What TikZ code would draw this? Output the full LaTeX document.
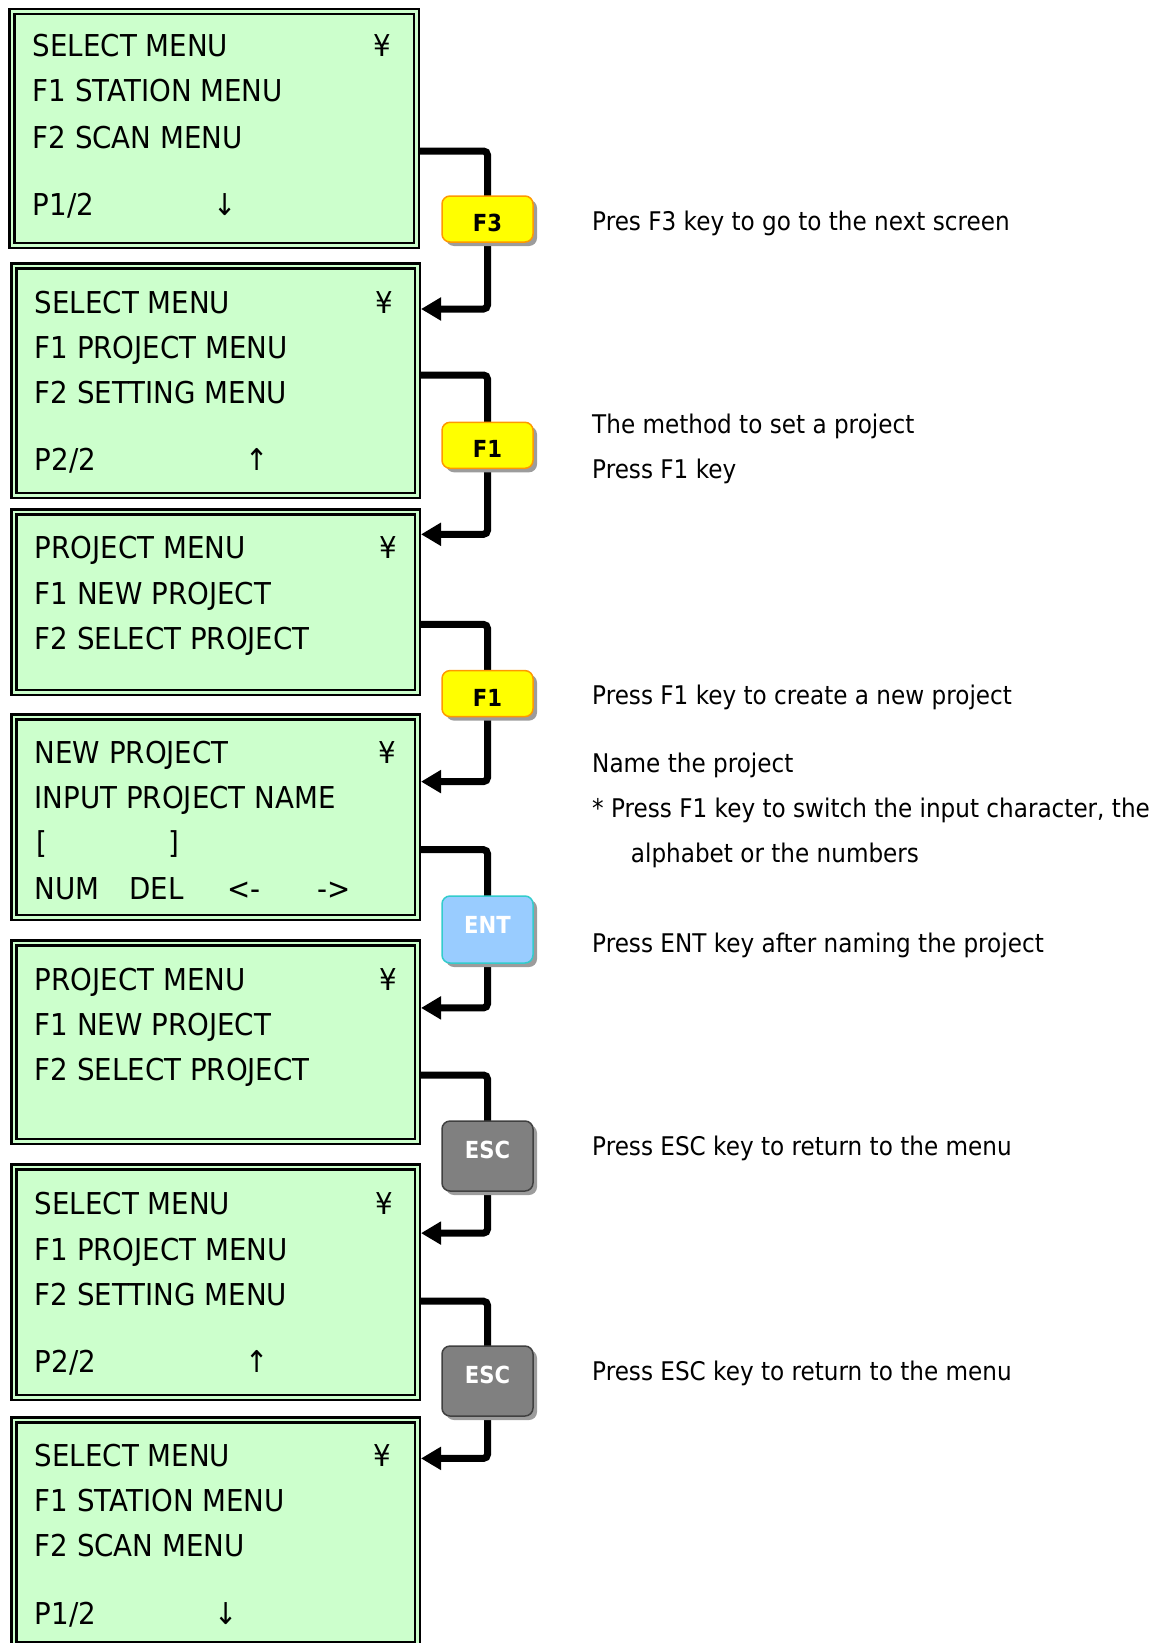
\documentclass[tikz,border=0pt]{standalone}
\usepackage{fontspec}
\setmainfont{DejaVu Sans}[FakeStretch=0.9]
\newfontfamily\lcdfont{DejaVu Sans}[FakeStretch=0.92]
\usetikzlibrary{arrows.meta,shadows,calc}
\definecolor{lcd}{HTML}{CCFFCC}
\definecolor{keyyel}{HTML}{FFFF00}
\definecolor{keyorg}{HTML}{FF9900}
\definecolor{entfill}{HTML}{99CCFF}
\definecolor{entdraw}{HTML}{33CCCC}
\definecolor{escfill}{HTML}{808080}
\definecolor{escdraw}{HTML}{404040}
\definecolor{shad}{HTML}{9C9C9C}
\pgfdeclarelayer{bg}\pgfsetlayers{bg,main}
\tikzset{
  screen/.style={draw=black, line width=2.5pt, double=lcd, double distance=2.5pt,
    fill=lcd, inner sep=0pt, outer sep=3.75pt, minimum width=403.5pt},
  lcdtxt/.style={anchor=base west, inner sep=0pt, font=\lcdfont\fontsize{30.1}{36}\selectfont},
  lcdsym/.style={anchor=base, inner sep=0pt, font=\lcdfont\fontsize{30.1}{36}\selectfont},
  note/.style={anchor=base west, inner sep=0pt, font=\fontsize{25.7}{30}\selectfont},
  key/.style={rounded corners=8pt, minimum width=91pt, inner sep=0pt, line width=1.5pt,
    font=\bfseries\fontsize{23.5}{28}\selectfont,
    drop shadow={shadow xshift=4pt, shadow yshift=-4pt, fill=shad, opacity=1}},
  fkey/.style={key, fill=keyyel, draw=keyorg, minimum height=46pt, text=black,
    text height=25.1pt, text depth=0pt},
  entkey/.style={key, fill=entfill, draw=entdraw, minimum height=67pt, text=white,
    text height=17.1pt, text depth=10pt},
  esckey/.style={key, fill=escfill, draw=escdraw, minimum height=70pt, text=white,
    text height=17.1pt, text depth=12pt},
  conn/.style={line width=7pt, rounded corners=4pt, -{Triangle[length=20pt,width=22pt]}}
}
\begin{document}
\begin{tikzpicture}[x=1pt,y=-1pt]
\useasboundingbox (0,0) rectangle (1163,1643);
\clip (0,0) rectangle (1163,1643);

% screens
\node[screen, minimum width=404.5pt, minimum height=233.5pt] (b1) at (214,128.5) {};
\node[screen, minimum height=229.5pt] (b2) at (215.5,380.5) {};
\node[screen, minimum height=180.5pt] (b3) at (215.5,602) {};
\node[screen, minimum height=200.5pt] (b4) at (215.5,817) {};
\node[screen, minimum height=198.5pt] (b5) at (215.5,1042) {};
\node[screen, minimum height=230.5pt] (b6) at (215.5,1282) {};
\node[screen, minimum height=224.5pt] (b7) at (215.5,1532) {};

% screen 1
\node[lcdtxt] (t11) at (32.5,57) {SELECT MENU};
\node[lcdtxt] (t12) at (32.5,102) {F1 STATION MENU};
\node[lcdtxt] (t13) at (32.5,148) {F2 SCAN MENU};
\node[lcdtxt] (t14) at (32.5,215) {P1/2};
\node[lcdsym] (y1) at (382,57) {¥};
\node[lcdsym] (a1) at (225.5,215) {↓};
% screen 2
\node[lcdtxt] (t21) at (34.5,313) {SELECT MENU};
\node[lcdtxt] (t22) at (34.5,358) {F1 PROJECT MENU};
\node[lcdtxt] (t23) at (34.5,403) {F2 SETTING MENU};
\node[lcdtxt] (t24) at (34.5,470) {P2/2};
\node[lcdsym] (y2) at (384.5,313) {¥};
\node[lcdsym] (a2) at (256.7,470) {↑};
% screen 3
\node[lcdtxt] (t31) at (34.5,558) {PROJECT MENU};
\node[lcdtxt] (t32) at (34.5,604) {F1 NEW PROJECT};
\node[lcdtxt] (t33) at (34.5,649) {F2 SELECT PROJECT};
\node[lcdsym] (y3) at (388.7,558) {¥};
% screen 4
\node[lcdtxt] (t41) at (34.5,763) {NEW PROJECT};
\node[lcdtxt] (t42) at (34.5,808) {INPUT PROJECT NAME};
\node[lcdtxt] (t43a) at (36.5,853) {[};
\node[lcdtxt] (t43b) at (168,853) {]};
\node[lcdtxt] (t44a) at (34.5,899) {NUM};
\node[lcdtxt] (t44b) at (129,899) {DEL};
\node[lcdtxt] (t44c) at (227,899) {<-};
\node[lcdtxt] (t44d) at (317.5,899) {->};
\node[lcdsym] (y4) at (387.6,763) {¥};
% screen 5
\node[lcdtxt] (t51) at (34.5,990) {PROJECT MENU};
\node[lcdtxt] (t52) at (34.5,1035) {F1 NEW PROJECT};
\node[lcdtxt] (t53) at (34.5,1080) {F2 SELECT PROJECT};
\node[lcdsym] (y5) at (388.7,990) {¥};
% screen 6
\node[lcdtxt] (t61) at (34.5,1214) {SELECT MENU};
\node[lcdtxt] (t62) at (34.5,1260) {F1 PROJECT MENU};
\node[lcdtxt] (t63) at (34.5,1305) {F2 SETTING MENU};
\node[lcdtxt] (t64) at (34.5,1372) {P2/2};
\node[lcdsym] (y6) at (384.5,1214) {¥};
\node[lcdsym] (a6) at (256.7,1372) {↑};
% screen 7
\node[lcdtxt] (t71) at (34.5,1466) {SELECT MENU};
\node[lcdtxt] (t72) at (34.5,1511) {F1 STATION MENU};
\node[lcdtxt] (t73) at (34.5,1556) {F2 SCAN MENU};
\node[lcdtxt] (t74) at (34.5,1624) {P1/2};
\node[lcdsym] (y7) at (382.5,1466) {¥};
\node[lcdsym] (a7) at (226.5,1624) {↓};

% keys
\node[fkey] (k1) at (487.5,219) {F3};
\node[fkey] (k2) at (487.5,445.3) {F1};
\node[fkey] (k3) at (487.5,693.6) {F1};
\node[entkey] (k4) at (487.5,929.5) {ENT};
\node[esckey] (k5) at (487.5,1156) {ESC};
\node[esckey] (k6) at (487.5,1381) {ESC};

% connectors
\begin{pgfonlayer}{bg}
\draw[conn] (b1.east |- 0,151) -| (k1.center) |- (b2.east |- 0,309);
\draw[conn] (b2.east |- 0,375) -| (k2.center) |- (b3.east |- 0,534.3);
\draw[conn] (b3.east |- 0,624.4) -| (k3.center) |- (b4.east |- 0,781.6);
\draw[conn] (b4.east |- 0,849.7) -| (k4.center) |- (b5.east |- 0,1007.9);
\draw[conn] (b5.east |- 0,1075) -| (k5.center) |- (b6.east |- 0,1233.1);
\draw[conn] (b6.east |- 0,1301.2) -| (k6.center) |- (b7.east |- 0,1458.4);
\end{pgfonlayer}

% notes
\node[note] (n1) at (592,230) {Pres F3 key to go to the next screen};
\node[note] (n2) at (592,433) {The method to set a project};
\node[note] (n3) at (592,478) {Press F1 key};
\node[note] (n4) at (592,704) {Press F1 key to create a new project};
\node[note] (n5) at (592,772) {Name the project};
\node[note] (n6) at (592,817) {* Press F1 key to switch the input character, the};
\node[note] (n7) at (630.7,862) {alphabet or the numbers};
\node[note] (n8) at (592,952) {Press ENT key after naming the project};
\node[note] (n9) at (592,1155) {Press ESC key to return to the menu};
\node[note] (n10) at (592,1380) {Press ESC key to return to the menu};
\end{tikzpicture}
\end{document}
